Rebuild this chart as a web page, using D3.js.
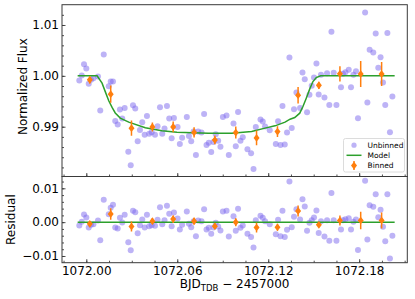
<!DOCTYPE html>
<html><head><meta charset="utf-8">
<script src="https://cdn.jsdelivr.net/npm/d3@7"></script>
<style>
body{margin:0;background:#fff}
svg{display:block}
text{font-family:"DejaVu Sans",sans-serif;fill:#000}
</style>
</head><body>
<svg id="chart" width="415" height="299"></svg>
<script>
// ---------------- data ----------------
const unbinnedTime = [1071.9954,1071.9970,1071.9985,1072.0000,1072.0016,1072.0031,1072.0047,1072.0077,1072.0092,1072.0115,
1072.0148,1072.0161,1072.0176,1072.0191,1072.0207,1072.0222,1072.0237,1072.0253,1072.0277,1072.0293,
1072.0308,1072.0323,1072.0339,1072.0354,1072.0369,1072.0385,1072.0400,1072.0415,1072.0431,1072.0453,
1072.0470,1072.0486,1072.0501,1072.0516,1072.0532,1072.0547,1072.0563,1072.0578,1072.0602,1072.0617,
1072.0632,1072.0663,1072.0677,1072.0692,1072.0708,1072.0723,1072.0738,1072.0760,1072.0777,1072.0793,
1072.0808,1072.0824,1072.0839,1072.0854,1072.0870,1072.0885,1072.0901,1072.0925,1072.0940,1072.0971,
1072.0986,1072.1001,1072.1017,1072.1032,1072.1063,1072.1087,1072.1103,1072.1118,1072.1149,1072.1164,
1072.1179,1072.1210,1072.1250,1072.1265,1072.1281,1072.1294,1072.1309,1072.1324,1072.1340,1072.1355,
1072.1370,1072.1386,1072.1410,1072.1426,1072.1441,1072.1456,1072.1472,1072.1487,1072.1502,1072.1518,
1072.1533,1072.1548,1072.1571,1072.1588,1072.1603,1072.1617,1072.1632,1072.1650,1072.1680,1072.1693,
1072.1709,1072.1731,1072.1746,1072.1762,1072.1779,1072.1792,1072.1839,1072.1854,1072.1869,1072.1893,
1072.1909,1072.1926,1072.1941,1072.1957,1072.1972,1072.1986,1072.2003,1072.2019];
const unbinnedFlux = [0.99907,1.00006,1.00230,1.00144,0.99843,0.99921,0.99955,0.99986,0.99317,1.00419,
0.99797,0.99888,0.99888,0.99114,0.99041,0.99337,0.99159,0.99370,0.98510,0.98242,
0.99423,0.99356,0.98715,0.98937,0.99089,0.98844,0.99213,0.98864,0.98892,0.98844,
0.99010,0.99384,0.98864,0.98963,0.99409,0.99159,0.98774,0.99173,0.98996,0.98661,
0.98785,0.99193,0.98819,0.98715,0.98904,0.98445,0.98904,0.98884,0.99252,0.98642,
0.98687,0.98504,0.98701,0.98852,0.98726,0.98608,0.99193,0.99219,0.98445,0.99061,
0.98616,0.99291,0.98726,0.98793,0.98557,0.98478,0.98169,0.98996,0.99140,0.99100,
0.99002,0.98931,0.98661,0.99108,0.98642,0.99409,0.98648,0.98884,1.00360,0.98976,
0.99344,0.99675,0.99370,1.00065,0.99935,0.99285,0.99626,0.99803,0.99967,1.00242,
0.99632,1.00020,0.99573,1.00053,0.99429,1.00866,1.00059,0.99429,0.99774,1.00039,
1.00073,1.00118,0.99778,1.00020,1.00089,0.99167,1.01246,0.99478,1.00512,1.00459,
1.00833,1.00157,1.00368,0.99868,0.99425,1.00841,0.98892,0.99593];
const unbinnedResidual = [-0.00101,0.00009,0.00225,0.00136,-0.00160,-0.00080,-0.00059,0.00047,-0.00533,0.00660,
0.00237,0.00423,0.00512,-0.00160,-0.00189,0.00127,-0.00012,0.00216,-0.00592,-0.00828,
0.00334,0.00296,-0.00325,-0.00089,0.00077,-0.00160,0.00216,-0.00118,-0.00089,-0.00109,
0.00068,0.00444,-0.00059,0.00059,0.00482,0.00246,-0.00118,0.00284,0.00107,-0.00219,
-0.00080,0.00314,-0.00050,-0.00148,0.00030,-0.00414,0.00047,0.00030,0.00385,-0.00219,
-0.00169,-0.00346,-0.00160,-0.00021,-0.00130,-0.00249,0.00314,0.00334,-0.00426,0.00178,
-0.00257,0.00393,-0.00169,-0.00101,-0.00346,-0.00435,-0.00751,0.00059,0.00186,0.00127,
0.00030,-0.00059,-0.00355,0.00068,-0.00414,0.00334,-0.00435,-0.00228,0.01201,-0.00148,
0.00157,0.00385,0.00077,0.00680,0.00462,-0.00257,-0.00021,0.00059,0.00136,0.00343,
-0.00317,0.00030,-0.00426,0.00059,-0.00553,0.00858,0.00059,-0.00553,-0.00219,0.00059,
0.00089,0.00118,-0.00219,0.00009,0.00077,-0.00820,0.01222,-0.00515,0.00503,0.00453,
0.00828,0.00148,0.00364,-0.00139,-0.00562,0.00828,-0.01077,-0.00405];

const binnedTime = [1072.0023,1072.0161,1072.0298,1072.0436,1072.0573,1072.0711,1072.0848,1072.0986,1072.1123,1072.1261,1072.1397,1072.1534,1072.1673,1072.1810,1072.1948];
const binnedFlux = [0.99921,0.99640,0.98972,0.98996,0.98996,0.98888,0.98740,0.98884,0.98780,0.98904,0.99620,0.99813,1.00039,1.00035,1.00035];
const binnedErr = [0.00073,0.00171,0.00148,0.00089,0.00104,0.00102,0.00085,0.00118,0.00144,0.00104,0.00163,0.00073,0.00148,0.00256,0.00236];
const binnedResidual = [-0.0005,0.0024,-0.0013,0.0003,0.0009,0.0003,-0.0012,0.0000,-0.0016,-0.0015,0.0033,-0.0008,0.0005,0.0005,0.0005];

const modelTime = [1071.9943,1072.0071,1072.0104,1072.0125,1072.0148,1072.0170,1072.0191,1072.0224,1072.0280,1072.0389,1072.0499,1072.0598,1072.0805,1072.0959,1072.1091,1072.1179,1072.1245,1072.1311,1072.1344,1072.1375,1072.1408,1072.1429,1072.1451,1072.1474,1072.1495,1072.1517,1072.1546,1072.2034];
const modelFlux = [1.0,1.0,0.99856,0.9969,0.9951,0.9938,0.9927,0.9917,0.9909,0.9898,0.9892,0.9889,0.98873,0.98873,0.98905,0.98972,0.99017,0.99089,0.99148,0.9918,0.99266,0.99396,0.99561,0.99744,0.99888,0.99967,1.0,1.0];
const modelResidualTime = [1071.9943,1072.2034];
const modelResidual = [0,0];

const timeTicks = [1072.00,1072.06,1072.12,1072.18];
const fluxTicks = [0.99,1.00,1.01];
const residualTicks = [-0.01,0.00,0.01];
const legendLabels = ["Unbinned","Model","Binned"];
const xLabelMain = "BJD", xLabelSub = "TDB", xLabelTail = " \u2212 2457000";
const yLabelTop = "Normalized Flux", yLabelBottom = "Residual";

// ---------------- layout ----------------
const L = 62, R = 407.3, T1 = 4.7, B1 = 176.5, B2 = 262.7;
const purple = "#7b68ee", green = "#2ca02c", orange = "#ff7f0e", frame = "#3a3a3a";

const x = d3.scaleLinear().domain([1071.98397, 1072.21174]).range([L, R]);
const yTop = d3.scaleLinear().domain([0.98021, 1.01399]).range([B1, T1]);
const yBot = d3.scaleLinear().domain([-0.01198, 0.01349]).range([B2, B1]);

const svg = d3.select("#chart");
svg.append("rect").attr("width",415).attr("height",299).attr("fill","#fff");

const defs = svg.append("defs");
defs.append("clipPath").attr("id","clipTop").append("rect").attr("x",L).attr("y",T1).attr("width",R-L).attr("height",B1-T1);
defs.append("clipPath").attr("id","clipBot").append("rect").attr("x",L).attr("y",B1).attr("width",R-L).attr("height",B2-B1);

function diamondPath(cx, cy){ const w=3.0,h=3.8; return `M${cx},${cy-h}L${cx+w},${cy}L${cx},${cy+h}L${cx-w},${cy}Z`; }

function panel(yScale, yVals, lineX, lineY, bY, bErr, clip){
  const g = svg.append("g").attr("clip-path", `url(#${clip})`);
  const idx = d3.range(unbinnedTime.length);
  g.selectAll("circle.u").data(idx).join("circle").attr("class","u")
    .attr("cx", i => x(unbinnedTime[i])).attr("cy", i => yScale(yVals[i]))
    .attr("r", 3).attr("fill", purple).attr("fill-opacity", 0.5);
  const line = d3.line().x(d => x(d[0])).y(d => yScale(d[1]));
  g.append("path").datum(lineX.map((t,i)=>[t,lineY[i]])).attr("d", line)
    .attr("fill","none").attr("stroke",green).attr("stroke-width",1.5);
  const bi = d3.range(binnedTime.length);
  g.selectAll("line.e").data(bi).join("line").attr("class","e")
    .attr("x1", i=>x(binnedTime[i])).attr("x2", i=>x(binnedTime[i]))
    .attr("y1", i=>yScale(bY[i]-bErr[i])).attr("y2", i=>yScale(bY[i]+bErr[i]))
    .attr("stroke", orange).attr("stroke-width",1.5);
  g.selectAll("path.b").data(bi).join("path").attr("class","b")
    .attr("d", i=>diamondPath(x(binnedTime[i]), yScale(bY[i]))).attr("fill",orange);
}

panel(yTop, unbinnedFlux, modelTime, modelFlux, binnedFlux, binnedErr, "clipTop");
panel(yBot, unbinnedResidual, modelResidualTime, modelResidual, binnedResidual, binnedErr, "clipBot");

// ---------------- axes ----------------
function styleAxis(g){
  g.select(".domain").remove();
  g.selectAll(".tick line").attr("stroke", frame).attr("stroke-width",0.9);
  g.selectAll(".tick text").attr("font-size","12px").attr("font-family","DejaVu Sans, sans-serif").attr("fill","#000");
}
const xMinor = d3.range(1071.985, 1072.212, 0.015);
// top panel x ticks (no labels)
svg.append("g").attr("transform",`translate(0,${B1})`)
  .call(d3.axisBottom(x).tickValues(xMinor).tickSize(-2).tickFormat("")).call(styleAxis);
svg.append("g").attr("transform",`translate(0,${B1})`)
  .call(d3.axisBottom(x).tickValues(timeTicks).tickSize(-3.5).tickFormat("")).call(styleAxis);
// bottom panel x ticks with labels
svg.append("g").attr("transform",`translate(0,${B2})`)
  .call(d3.axisBottom(x).tickValues(xMinor).tickSize(-2).tickFormat("")).call(styleAxis);
const gx = svg.append("g").attr("transform",`translate(0,${B2})`)
  .call(d3.axisBottom(x).tickValues(timeTicks).tickSize(-3.5).tickPadding(4).tickFormat(d3.format(".2f"))).call(styleAxis);
gx.selectAll(".tick text").attr("dy","0.71em");

// y axes
const yTopMinor = d3.range(0.982, 1.0135, 0.002);
svg.append("g").attr("transform",`translate(${L},0)`)
  .call(d3.axisLeft(yTop).tickValues(yTopMinor).tickSize(-2).tickFormat("")).call(styleAxis);
svg.append("g").attr("transform",`translate(${L},0)`)
  .call(d3.axisLeft(yTop).tickValues(fluxTicks).tickSize(-3.5).tickPadding(3).tickFormat(d3.format(".2f"))).call(styleAxis);
const yBotMinor = d3.range(-0.010, 0.0135, 0.002);
svg.append("g").attr("transform",`translate(${L},0)`)
  .call(d3.axisLeft(yBot).tickValues(yBotMinor).tickSize(-2).tickFormat("")).call(styleAxis);
svg.append("g").attr("transform",`translate(${L},0)`)
  .call(d3.axisLeft(yBot).tickValues(residualTicks).tickSize(-3.5).tickPadding(3).tickFormat(d3.format(".2f"))).call(styleAxis);

// frames
[[T1,B1],[B1,B2]].forEach(([t,b])=>{
  svg.append("rect").attr("x",L).attr("y",t).attr("width",R-L).attr("height",b-t)
    .attr("fill","none").attr("stroke",frame).attr("stroke-width",1);
});

// ---------------- labels ----------------
svg.append("text").attr("transform",`translate(26.5,${(T1+B1)/2-4}) rotate(-90)`)
  .attr("text-anchor","middle").attr("font-size","12px").text(yLabelTop);
svg.append("text").attr("transform",`translate(15,${(B1+B2)/2}) rotate(-90)`)
  .attr("text-anchor","middle").attr("font-size","12px").text(yLabelBottom);
const xl = svg.append("text").attr("x",(L+R)/2).attr("y",288).attr("text-anchor","middle").attr("font-size","12px");
xl.append("tspan").text(xLabelMain);
xl.append("tspan").attr("font-size","8.5px").attr("dy","3").text(xLabelSub);
xl.append("tspan").attr("dy","-3").text(xLabelTail);

// ---------------- legend ----------------
const lg = svg.append("g");
lg.append("rect").attr("x",343.5).attr("y",138.5).attr("width",61).attr("height",33.5).attr("rx",2)
  .attr("fill","#fff").attr("fill-opacity",0.8).attr("stroke","#d3d3d3").attr("stroke-width",0.8);
const rowY = [145.2, 155.3, 165.6];
lg.append("circle").attr("cx",354).attr("cy",rowY[0]).attr("r",2.6).attr("fill",purple).attr("fill-opacity",0.5);
lg.append("line").attr("x1",346.5).attr("x2",361.5).attr("y1",rowY[1]).attr("y2",rowY[1]).attr("stroke",green).attr("stroke-width",1.5);
lg.append("line").attr("x1",354).attr("x2",354).attr("y1",rowY[2]-4.5).attr("y2",rowY[2]+4.5).attr("stroke",orange).attr("stroke-width",1.5);
lg.append("path").attr("d",diamondPath(354,rowY[2])).attr("fill",orange);
lg.selectAll("text").data(legendLabels).join("text")
  .attr("x",367.5).attr("y",(d,i)=>rowY[i]).attr("dy","0.35em").attr("font-size","7.5px").text(d=>d);
</script>
</body></html>
